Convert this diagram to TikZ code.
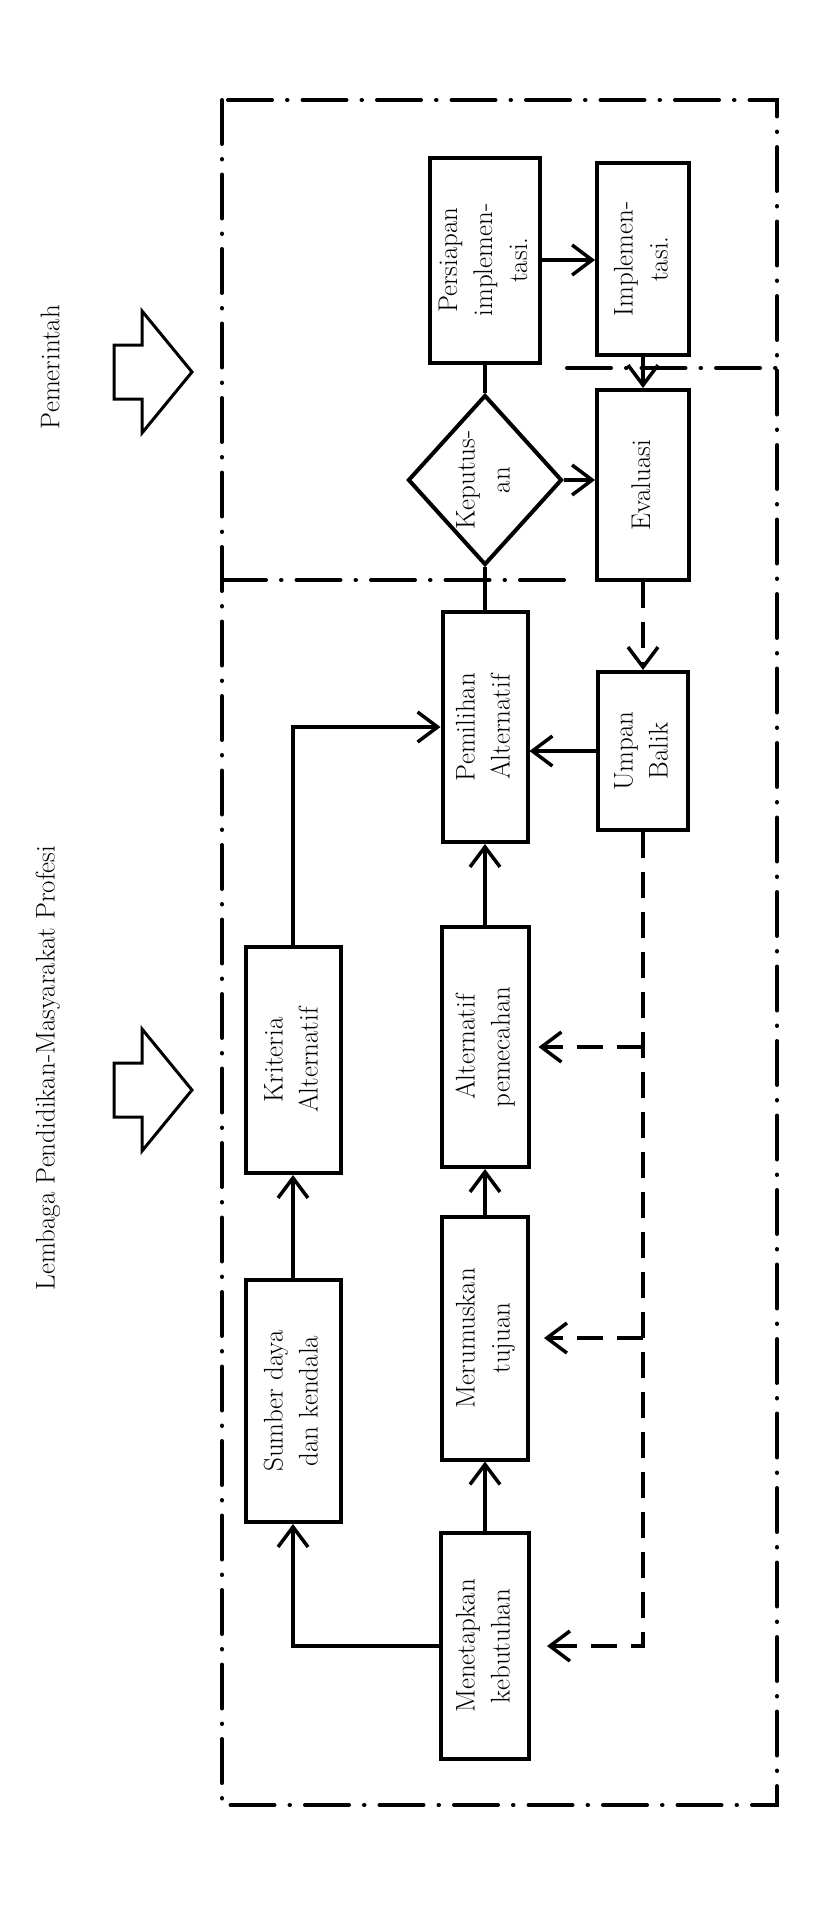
\documentclass[tikz,border=0pt]{standalone}
\usepackage{fontspec}
\usepackage{graphicx}
\usetikzlibrary{arrows.meta}
\usetikzlibrary{calc}
\usetikzlibrary{positioning}
\usetikzlibrary{shapes.geometric}
\tikzset{
  every picture/.style={font={\fontsize{27}{35}\selectfont},
    >={Straight Barb[length=20pt,width=30pt]}}}
\newcommand{\vtext}[1]{\rotatebox{90}{\begin{tabular}{@{}c@{}}#1\end{tabular}}}

\begin{document}
\begin{tikzpicture}[x=1pt, y=-1pt, line width=3.5pt,
    box/.style={draw, rectangle, inner sep=0pt, line width=4pt},
    decision/.style={draw, diamond, inner sep=0pt, line width=4pt,
      minimum width=154pt, minimum height=170pt},
    zone/.style={line width=4pt, line cap=round,
      dash pattern=on 44pt off 15pt on 0.5pt off 15pt},
    feedback/.style={->, dash pattern=on 26pt off 14pt},
    bigarrow/.style={draw, line width=3pt, line join=miter}]

    \useasboundingbox (0,0) rectangle (834,1908);

    % zones
    \coordinate (NW) at (222,100);
    \coordinate (SE) at (777,1805);
    \draw[zone] (NW) rectangle (SE);
    \draw[zone] (NW |- 0,580) -- (567,580);
    \draw[zone] (567,368) -- (SE |- 0,368);

    % side labels
    \node[rotate=90] (pemerintah) at (50,367) {Pemerintah};
    \node[rotate=90] (lembaga) at (48,1068) {Lembaga Pendidikan-Masyarakat Profesi};
    \foreach \cy in {372,1090}
      \draw[bigarrow] (114,\cy-27) -- (142,\cy-27) -- (142,\cy-61) -- (192,\cy)
        -- (142,\cy+61) -- (142,\cy+27) -- (114,\cy+27) -- cycle;

    % left column
    \node[box, minimum width=95pt, minimum height=226pt] (kriteria) at (293,1060)
      {\vtext{Kriteria\\Alternatif}};
    \node[box, minimum width=95pt, minimum height=242pt] (sumber) at (293,1401)
      {\vtext{Sumber daya\\dan kendala}};

    % middle column
    \node[box, minimum width=110pt, minimum height=205pt] (persiapan) at (485,260)
      {\vtext{Persiapan\\implemen-\\tasi.}};
    \node[decision] (keputusan) at (485,480) {};
    \node (keputusantext) at (keputusan) {\vtext{Keputus-\\an}};
    \node[box, minimum width=85pt, minimum height=230pt] (pemilihan) at (485,727)
      {\vtext{Pemilihan\\Alternatif}};
    \node[box, minimum width=87pt, minimum height=240pt] (alternatif) at (485,1047)
      {\vtext{Alternatif\\pemecahan}};
    \node[box, minimum width=86pt, minimum height=243pt] (merumuskan) at (485,1338)
      {\vtext{Merumuskan\\tujuan}};
    \node[box, minimum width=88pt, minimum height=226pt] (menetapkan) at (485,1646)
      {\vtext{Menetapkan\\kebutuhan}};

    % right column
    \node[box, minimum width=92pt, minimum height=192pt] (implementasi) at (643,259)
      {\vtext{Implemen-\\tasi.}};
    \node[box, minimum width=92pt, minimum height=190pt] (evaluasi) at (643,485)
      {\vtext{Evaluasi}};
    \node[box, minimum width=90pt, minimum height=158pt] (umpan) at (643,751)
      {\vtext{Umpan\\Balik}};

    % flow
    \path[->] (menetapkan.north) edge (merumuskan.south);
    \path[->] (merumuskan.north) edge (alternatif.south);
    \path[->] (alternatif.north) edge (pemilihan.south);
    \draw[->] (menetapkan.west) -| (sumber.south);
    \draw[->] (sumber.north) -- (kriteria.south);
    \draw[->] (kriteria.north) |- (pemilihan.west);
    \draw (pemilihan.north) -- (keputusan.south);
    \draw (keputusan.north) -- (persiapan.south);
    \draw[->] (keputusan.east) -- (keputusan.east -| evaluasi.west);
    \draw[->] (persiapan.east) -- (persiapan.east -| implementasi.west);
    \draw[->] (implementasi.south) -- (evaluasi.north);
    \draw[->] (umpan.west) -- (umpan.west -| pemilihan.east);

    % feedback
    \draw[feedback] (evaluasi.south) -- (umpan.north);
    \draw[feedback, shorten >=16pt] (umpan.south) |- (menetapkan.east);
    \draw[feedback, shorten >=8pt] (umpan.south |- alternatif.east) -- (alternatif.east);
    \draw[feedback, shorten >=14pt] (umpan.south |- merumuskan.east) -- (merumuskan.east);
  \end{tikzpicture}
\end{document}
